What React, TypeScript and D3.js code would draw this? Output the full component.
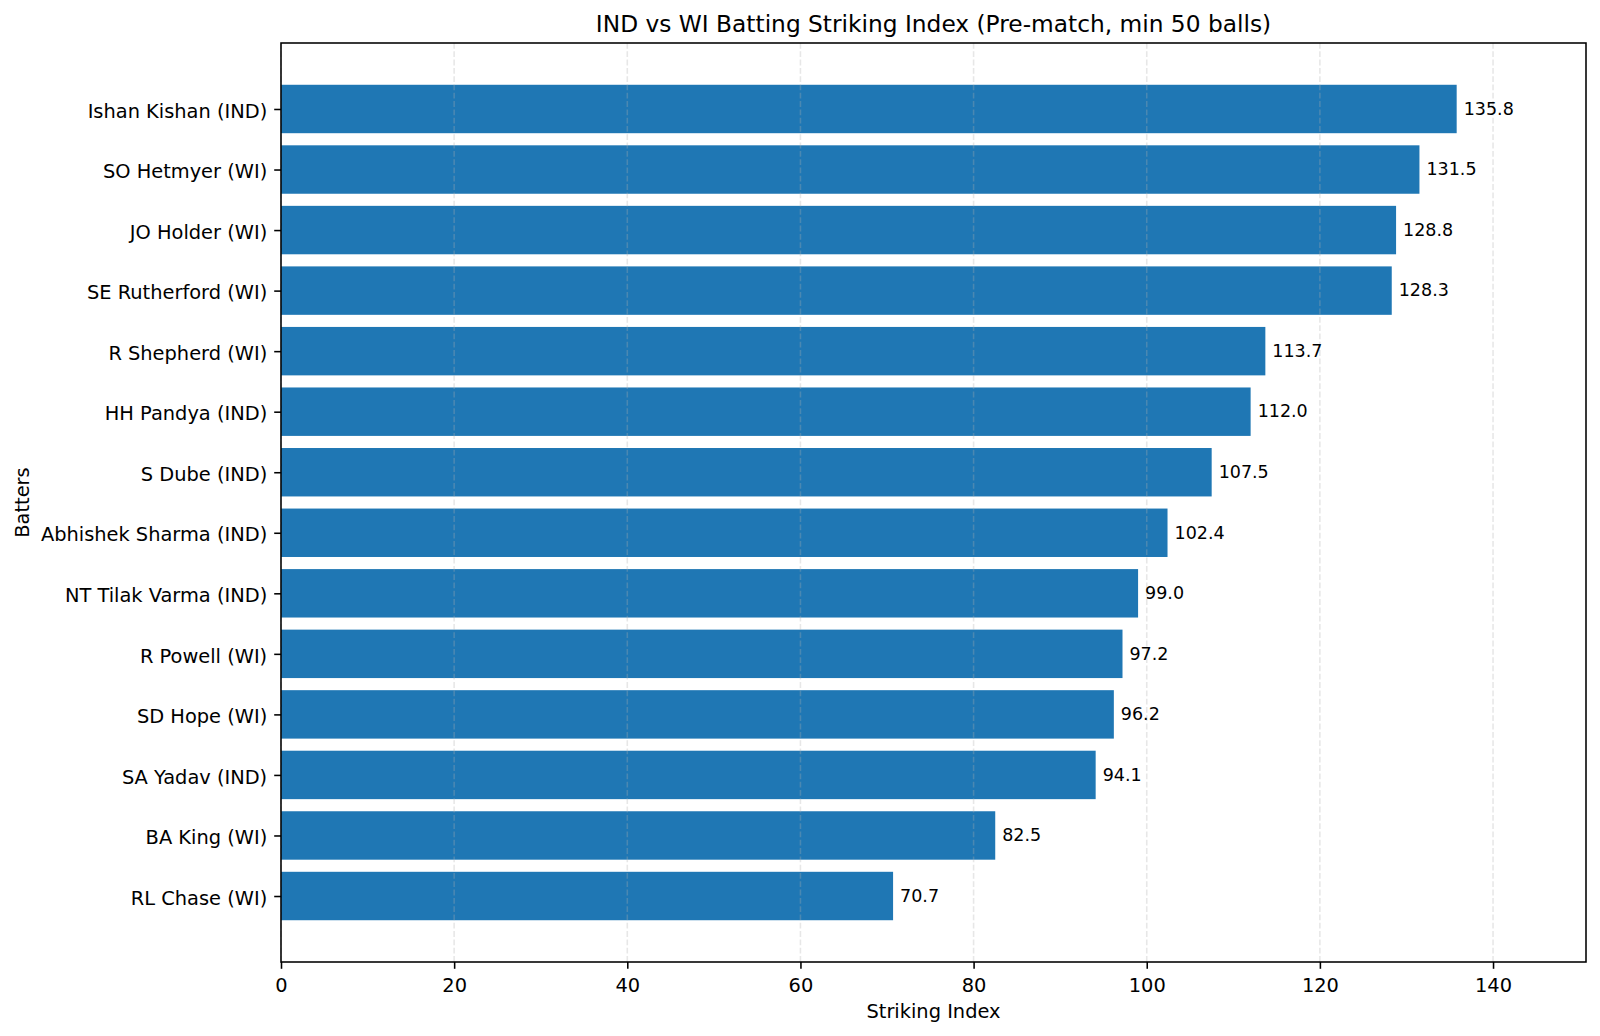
import * as d3 from "d3";
import { useEffect, useRef } from "react";

const batters = [
  "Ishan Kishan (IND)",
  "SO Hetmyer (WI)",
  "JO Holder (WI)",
  "SE Rutherford (WI)",
  "R Shepherd (WI)",
  "HH Pandya (IND)",
  "S Dube (IND)",
  "Abhishek Sharma (IND)",
  "NT Tilak Varma (IND)",
  "R Powell (WI)",
  "SD Hope (WI)",
  "SA Yadav (IND)",
  "BA King (WI)",
  "RL Chase (WI)",
];
const strikingIndex = [
  135.8, 131.5, 128.8, 128.3, 113.7, 112.0, 107.5, 102.4, 99.0, 97.2, 96.2,
  94.1, 82.5, 70.7,
];
const xTicks = [0, 20, 40, 60, 80, 100, 120, 140];

function App() {
  const ref = useRef<SVGSVGElement>(null);
  const W = 1600;
  const H = 1036;
  const margin = { top: 43, right: 14, bottom: 74, left: 281 };

  useEffect(() => {
    const svg = d3.select(ref.current);
    svg.selectAll("*").remove();
    const font = "DejaVu Sans, sans-serif";
    const width = W - margin.left - margin.right;
    const height = H - margin.top - margin.bottom;
    const lw = 1.56;

    const g = svg
      .append("g")
      .attr("transform", `translate(${margin.left},${margin.top})`);

    const xMax = d3.max(strikingIndex) as number;
    const x = d3
      .scaleLinear()
      .domain([0, xMax * 1.11])
      .range([0, width]);

    // band positions like matplotlib barh: centres at 0..n-1, 5% margins
    const n = batters.length;
    const lo = -0.4 - 0.05 * (n - 1 + 0.8);
    const hi = n - 1 + 0.4 + 0.05 * (n - 1 + 0.8);
    const y = d3.scaleLinear().domain([lo, hi]).range([0, height]);

    // bars
    g.selectAll("rect.bar")
      .data(strikingIndex)
      .enter()
      .append("rect")
      .attr("class", "bar")
      .attr("x", x(0))
      .attr("y", (_, i) => y(i - 0.4))
      .attr("width", (d) => x(d) - x(0))
      .attr("height", y(0.4) - y(-0.4))
      .attr("fill", "#1f77b4");

    // grid on top of bars
    g.selectAll("line.grid")
      .data(xTicks)
      .enter()
      .append("line")
      .attr("class", "grid")
      .attr("x1", (d) => x(d))
      .attr("x2", (d) => x(d))
      .attr("y1", 0)
      .attr("y2", height)
      .attr("stroke", "#b0b0b0")
      .attr("stroke-opacity", 0.3)
      .attr("stroke-width", lw)
      .attr("stroke-dasharray", "5.8,2.5");

    // value labels
    g.selectAll("text.val")
      .data(strikingIndex)
      .enter()
      .append("text")
      .attr("class", "val")
      .attr("x", (d) => x(d) + 7)
      .attr("y", (_, i) => y(i))
      .attr("dy", "0.33em")
      .attr("font-family", font)
      .attr("font-size", 17.5)
      .attr("fill", "#000")
      .text((d) => d.toFixed(1));

    // x axis
    const xAxis = g
      .append("g")
      .attr("transform", `translate(0,${height})`)
      .call(
        d3
          .axisBottom(x)
          .tickValues(xTicks)
          .tickSize(6.8)
          .tickPadding(9.4)
          .tickSizeOuter(0)
      );
    xAxis.select(".domain").remove();
    xAxis.selectAll("line").attr("stroke", "#000").attr("stroke-width", lw);
    xAxis
      .selectAll("text")
      .attr("font-family", font)
      .attr("font-size", 19.4)
      .attr("fill", "#000");

    // y axis
    const yAxis = g
      .append("g")
      .call(
        d3
          .axisLeft(y)
          .tickValues(d3.range(n))
          .tickFormat((d) => batters[d as number])
          .tickSize(6.8)
          .tickPadding(7)
          .tickSizeOuter(0)
      );
    yAxis.select(".domain").remove();
    yAxis.selectAll("line").attr("stroke", "#000").attr("stroke-width", lw);
    yAxis
      .selectAll("text")
      .attr("dy", "0.42em")
      .attr("font-family", font)
      .attr("font-size", 19.4)
      .attr("fill", "#000");

    // frame
    g.append("rect")
      .attr("x", 0)
      .attr("y", 0)
      .attr("width", width)
      .attr("height", height)
      .attr("fill", "none")
      .attr("stroke", "#000")
      .attr("stroke-width", lw);

    // title and axis labels
    svg
      .append("text")
      .attr("x", margin.left + width / 2)
      .attr("y", 32.3)
      .attr("text-anchor", "middle")
      .attr("font-family", font)
      .attr("font-size", 23.3)
      .attr("fill", "#000")
      .text("IND vs WI Batting Striking Index (Pre-match, min 50 balls)");

    svg
      .append("text")
      .attr("x", margin.left + width / 2)
      .attr("y", 1018)
      .attr("text-anchor", "middle")
      .attr("font-family", font)
      .attr("font-size", 19.4)
      .attr("fill", "#000")
      .text("Striking Index");

    svg
      .append("text")
      .attr(
        "transform",
        `translate(28.5,${margin.top + height / 2}) rotate(-90)`
      )
      .attr("text-anchor", "middle")
      .attr("font-family", font)
      .attr("font-size", 19.4)
      .attr("fill", "#000")
      .text("Batters");
  }, []);

  return (
    <svg
      ref={ref}
      width={W}
      height={H}
      style={{ position: "absolute", left: 0, top: 0, background: "#fff" }}
    />
  );
}

export default App;
